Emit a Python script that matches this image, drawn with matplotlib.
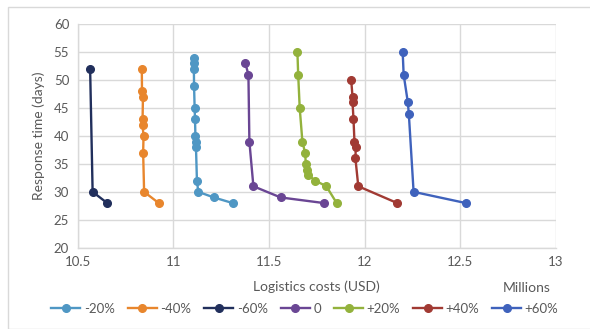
import matplotlib
matplotlib.use("Agg")
import matplotlib.pyplot as plt
from matplotlib.patches import Rectangle

plt.rcParams['font.family'] = ['Lato', 'DejaVu Sans']

# Logistics cost (millions USD) vs. response time (days) per demand scenario
labels = ["-20%", "-40%", "-60%", "0", "+20%", "+40%", "+60%"]
colors = ["#4F97C4", "#E8862D", "#212F5C", "#6A4694", "#93B23C", "#A13A33", "#3F62BC"]

cost_m20 = [11.107, 11.107, 11.108, 11.109, 11.112, 11.114, 11.116, 11.117, 11.119, 11.124, 11.131, 11.212, 11.31]
time_m20 = [54, 53, 52, 49, 45, 43, 40, 39, 38, 32, 30, 29, 28]

cost_m40 = [10.836, 10.837, 10.842, 10.840, 10.840, 10.845, 10.843, 10.848, 10.924]
time_m40 = [52, 48, 47, 43, 42, 40, 37, 30, 28]

cost_m60 = [10.566, 10.579, 10.655]
time_m60 = [52, 30, 28]

cost_0 = [11.377, 11.393, 11.398, 11.419, 11.561, 11.786]
time_0 = [53, 51, 39, 31, 29, 28]

cost_p20 = [11.649, 11.653, 11.661, 11.675, 11.689, 11.693, 11.697, 11.705, 11.743, 11.800, 11.854]
time_p20 = [55, 51, 45, 39, 37, 35, 34, 33, 32, 31, 28]

cost_p40 = [11.930, 11.937, 11.937, 11.942, 11.947, 11.954, 11.952, 11.967, 12.170]
time_p40 = [50, 47, 46, 43, 39, 38, 36, 31, 28]

cost_p60 = [12.199, 12.204, 12.226, 12.231, 12.256, 12.528]
time_p60 = [55, 51, 46, 44, 30, 28]

series = [
    (cost_m20, time_m20),
    (cost_m40, time_m40),
    (cost_m60, time_m60),
    (cost_0, time_0),
    (cost_p20, time_p20),
    (cost_p40, time_p40),
    (cost_p60, time_p60),
]

W, H = 590, 329
fig = plt.figure(figsize=(W / 100, H / 100), dpi=100)
ax = fig.add_axes([77.5 / W, 1 - 247.7 / H, (556 - 77.5) / W, (247.7 - 24.3) / H])

text_color = "#595959"
grid_color = "#D9D9D9"

for (x, y), lab, c in zip(series, labels, colors):
    ax.plot(x, y, color=c, lw=1.7, marker="o", ms=5.5, label=lab, zorder=3)

ax.set_xlim(10.5, 13)
ax.set_ylim(20, 60)
ax.set_xticks([10.5, 11, 11.5, 12, 12.5, 13])
ax.set_xticklabels(["10.5", "11", "11.5", "12", "12.5", "13"])
ax.set_yticks(range(20, 61, 5))
ax.grid(True, color=grid_color, lw=1.0)
ax.set_axisbelow(True)

for s in ["top", "right"]:
    ax.spines[s].set_visible(False)
for s in ["left", "bottom"]:
    ax.spines[s].set_color(grid_color)
    ax.spines[s].set_linewidth(1.0)

ax.tick_params(length=0, labelsize=9.5, colors=text_color, pad=6)
ax.set_xlabel("Logistics costs (USD)", fontsize=10, color=text_color, labelpad=9)
ax.set_ylabel("Response time (days)", fontsize=10, color=text_color, labelpad=6)

fig.text(527 / W, 1 - 288 / H, "Millions", fontsize=10, color=text_color,
         ha="center", va="center")

leg = fig.legend(loc="center", bbox_to_anchor=(305 / W, 1 - 309 / H), ncol=7,
                 frameon=False, fontsize=9.5, handlelength=2.2, columnspacing=1.0,
                 handletextpad=0.25)
for t in leg.get_texts():
    t.set_color(text_color)

# chart area border
fig.patches.append(Rectangle((8 / W, 0.5 / H), 1.2, 1 - 7.5 / H,
                             transform=fig.transFigure, fill=False,
                             ec="#D9D9D9", lw=1.0))

fig.savefig("out.png", dpi=100)
